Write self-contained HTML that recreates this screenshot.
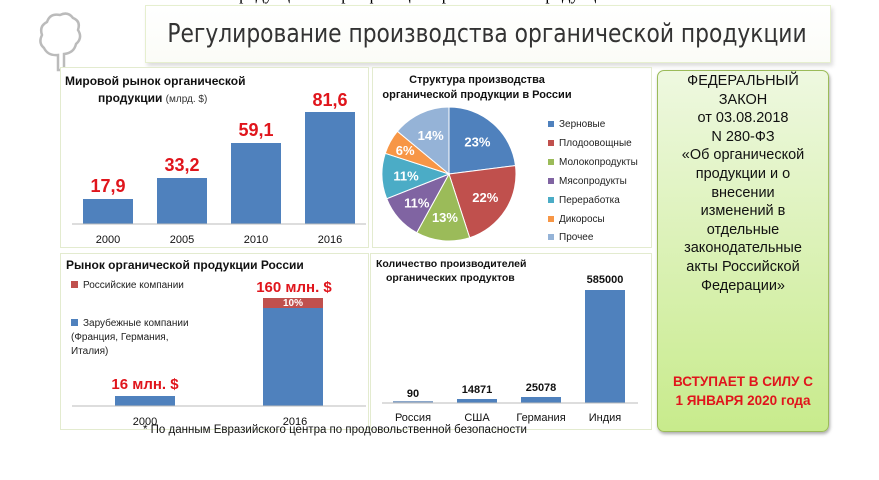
<!DOCTYPE html><html><head><meta charset="utf-8"><style>
body{margin:0;width:879px;height:480px;background:#fff;position:relative;overflow:hidden;font-family:"Liberation Sans","DejaVu Sans",sans-serif}
.a{position:absolute}
.p{position:absolute;border:1px solid #e3ebcf;background:#fff}
</style></head><body>
<div class="a" style="left:230px;top:-15px;font:17px 'Liberation Serif',serif;color:#000">продукции и сертификации органической продукции</div>
<div class="a" style="left:145px;top:5px;width:684px;height:56px;border:1px solid #e6efcf;background:linear-gradient(#fff,#fbfcf7);box-shadow:2px 3px 4px #ddd"></div>
<div class="a" style="left:145px;top:19px;width:684px;text-align:center;font-size:25.5px;color:#333;font-family:'DejaVu Sans Condensed','Liberation Sans Narrow','Liberation Sans',sans-serif;font-weight:200;transform:scaleX(0.95)">Регулирование производства органической продукции</div>
<svg class="a" style="left:38px;top:10px" width="45" height="62"><path d="M20 60 L20 45 Q10 46 6 38 Q0 33 4 25 Q1 16 9 12 Q12 3 22 5 Q30 1 35 8 Q43 11 40 20 Q45 28 38 34 Q36 43 26 44 L26 60 Z" fill="none" stroke="#bbb" stroke-width="2.5"/></svg>
<div class="p" style="left:60px;top:67px;width:307px;height:179px"></div>
<div class="a" style="left:65px;top:73px;font-size:12px;font-weight:bold;line-height:17px;color:#111">Мировой рынок органической<br><span style="padding-left:33px">продукции</span> <span style="font-weight:normal;font-size:10px;color:#333">(млрд. $)</span></div>
<svg class="a" style="left:0;top:0" width="879" height="480">
<g fill="#4F81BD">
<rect x="83" y="199" width="50" height="25"/><rect x="157" y="178" width="50" height="46"/><rect x="231" y="143" width="50" height="81"/><rect x="305" y="112" width="50" height="112"/>
<rect x="115" y="396" width="60" height="10"/><rect x="263" y="308" width="60" height="98"/>
<rect x="393" y="401" width="40" height="2" fill="#8aa6c9"/><rect x="457" y="399" width="40" height="4"/><rect x="521" y="397" width="40" height="6"/><rect x="585" y="290" width="40" height="113"/>
</g>
<rect x="263" y="298" width="60" height="10" fill="#C0504D"/>
<g stroke="#bbb"><line x1="72" y1="224" x2="366" y2="224"/><line x1="72" y1="406" x2="366" y2="406"/><line x1="382" y1="403" x2="638" y2="403"/></g>
<g font-family="Liberation Sans" font-weight="bold" fill="#e0151c" font-size="18" text-anchor="middle">
<text x="108" y="192">17,9</text><text x="182" y="171">33,2</text><text x="256" y="136">59,1</text><text x="330" y="106">81,6</text>
<text x="145" y="389" font-size="15">16 млн. $</text><text x="294" y="292" font-size="15">160 млн. $</text></g>
<text x="293" y="306" fill="#fff" font-size="10" font-weight="bold" text-anchor="middle">10%</text>
<g font-size="11" fill="#111" text-anchor="middle"><text x="108" y="243">2000</text><text x="182" y="243">2005</text><text x="256" y="243">2010</text><text x="330" y="243">2016</text>
<text x="145" y="425">2000</text><text x="295" y="425">2016</text>
<text x="413" y="421">Россия</text><text x="477" y="421">США</text><text x="541" y="421">Германия</text><text x="605" y="421">Индия</text></g>
<g font-size="11" font-weight="bold" fill="#111" text-anchor="middle"><text x="413" y="397">90</text><text x="477" y="393">14871</text><text x="541" y="391">25078</text><text x="605" y="283">585000</text></g>
</svg>
<div class="p" style="left:60px;top:253px;width:307px;height:175px;background:transparent"></div>
<div class="a" style="left:66px;top:258px;font-size:12px;font-weight:bold;color:#111">Рынок органической продукции России</div>
<div class="a" style="left:71px;top:280px;font-size:10px;color:#222"><span style="display:inline-block;width:7px;height:7px;background:#C0504D;margin-right:5px"></span>Российские компании</div>
<div class="a" style="left:71px;top:317px;font-size:10px;color:#222;line-height:14px"><span style="display:inline-block;width:7px;height:7px;background:#4F81BD;margin-right:5px"></span>Зарубежные компании<br>(Франция, Германия,<br>Италия)</div>
<div class="p" style="left:372px;top:67px;width:278px;height:179px;background:transparent"></div>
<div class="a" style="left:372px;top:73px;width:210px;text-align:center;font-size:11px;font-weight:bold;line-height:15px;color:#111">Структура производства<br>органической продукции в России</div>
<svg class="a" style="left:0;top:0" width="879" height="480" id="pie"></svg>
<div class="a" style="left:548px;top:116px;font-size:10px;color:#222;line-height:18.9px">
<div><span style="display:inline-block;width:6px;height:6px;background:#4F81BD;margin-right:5px"></span>Зерновые</div>
<div><span style="display:inline-block;width:6px;height:6px;background:#C0504D;margin-right:5px"></span>Плодоовощные</div>
<div><span style="display:inline-block;width:6px;height:6px;background:#9BBB59;margin-right:5px"></span>Молокопродукты</div>
<div><span style="display:inline-block;width:6px;height:6px;background:#8064A2;margin-right:5px"></span>Мясопродукты</div>
<div><span style="display:inline-block;width:6px;height:6px;background:#4BACC6;margin-right:5px"></span>Переработка</div>
<div><span style="display:inline-block;width:6px;height:6px;background:#F79646;margin-right:5px"></span>Дикоросы</div>
<div><span style="display:inline-block;width:6px;height:6px;background:#95B3D7;margin-right:5px"></span>Прочее</div></div>
<div class="p" style="left:370px;top:253px;width:280px;height:175px;background:transparent"></div>
<div class="a" style="left:376px;top:257px;font-size:10.5px;font-weight:bold;line-height:14px;color:#111">Количество производителей<br><span style="padding-left:10px">органических продуктов</span></div>
<div class="a" style="left:143px;top:424px;font-size:11.5px;color:#111">* По данным Евразийского центра по продовольственной безопасности</div>
<div class="a" style="left:657px;top:70px;width:170px;height:360px;border:1px solid #9bbb59;border-radius:7px;background:linear-gradient(#eef8e0,#c8eb8c);box-shadow:1px 2px 3px #aaa"></div>
<div class="a" style="left:657px;top:72px;width:172px;text-align:center;font-size:14.5px;line-height:18.6px;color:#111">ФЕДЕРАЛЬНЫЙ<br>ЗАКОН<br>от 03.08.2018<br>N 280-ФЗ<br>«Об органической<br>продукции и о<br>внесении<br>изменений в<br>отдельные<br>законодательные<br>акты Российской<br>Федерации»</div>
<div class="a" style="left:657px;top:372px;width:172px;text-align:center;font-size:13.5px;font-weight:bold;line-height:19px;color:#e0151c">ВСТУПАЕТ В СИЛУ С<br>1 ЯНВАРЯ 2020 года</div>
<script>
var d=[[23,'#4F81BD'],[22,'#C0504D'],[13,'#9BBB59'],[11,'#8064A2'],[11,'#4BACC6'],[6,'#F79646'],[14,'#95B3D7']];
var cx=449,cy=174,r=67,a=-Math.PI/2,s='';
d.forEach(function(e){var b=a+e[0]/100*2*Math.PI;var l=b-a>Math.PI?1:0;
s+='<path d="M'+cx+' '+cy+' L'+(cx+r*Math.cos(a))+' '+(cy+r*Math.sin(a))+' A'+r+' '+r+' 0 '+l+' 1 '+(cx+r*Math.cos(b))+' '+(cy+r*Math.sin(b))+'Z" fill="'+e[1]+'" stroke="#fff" stroke-width="1"/>';
var m=(a+b)/2,rr=e[0]==6?50:43;
s+='<text x="'+(cx+rr*Math.cos(m))+'" y="'+(cy+rr*Math.sin(m)+5)+'" fill="#fff" font-size="13" font-weight="bold" text-anchor="middle" font-family="Liberation Sans">'+e[0]+'%</text>';a=b;});
document.getElementById('pie').innerHTML=s;
</script>
</body></html>
